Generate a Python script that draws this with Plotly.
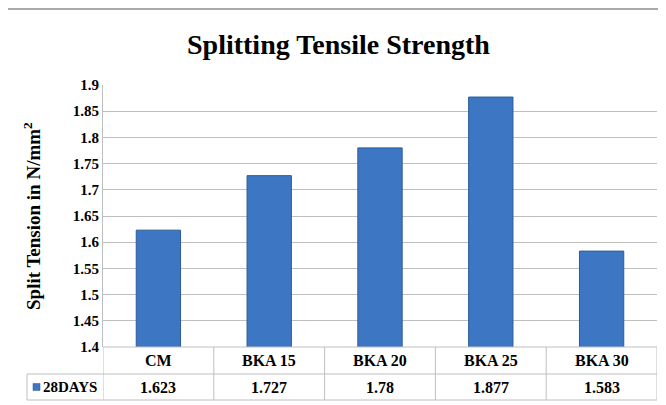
import plotly.graph_objects as go

categories = ["CM", "BKA 15", "BKA 20", "BKA 25", "BKA 30"]
values_28days = [1.623, 1.727, 1.78, 1.877, 1.583]
value_labels = ["1.623", "1.727", "1.78", "1.877", "1.583"]
series_name = "28DAYS"
tick_vals = [1.4, 1.45, 1.5, 1.55, 1.6, 1.65, 1.7, 1.75, 1.8, 1.85, 1.9]

FONT = "Liberation Serif, Times New Roman, serif"
OFF = 8  # page body margin
WIN_W, WIN_H = 666, 405
W, H = WIN_W - OFF, WIN_H - OFF
ml, mr, mt, mb = 103 - OFF, 9, 85 - OFF, 58
plot_h = H - mt - mb
plot_w = W - ml - mr


def px(xwin):
    return (xwin - OFF - ml) / plot_w


def py(ywin):
    return (WIN_H - mb - ywin) / plot_h


def bfont(size):
    return dict(family=FONT, size=size, color="#000", weight="bold")


fig = go.Figure()
fig.add_trace(go.Bar(
    x=list(range(len(categories))), y=values_28days, name=series_name,
    width=0.4,
    marker=dict(color="#3D77C4", line=dict(color="#2A5A97", width=1)),
    showlegend=False, hoverinfo="skip",
))

row1 = py(374)
row2 = py(400)
left_leg = px(27)

shapes = []
line_style = dict(color="#BFBFBF", width=1)
shapes.append(dict(type="line", xref="x", yref="paper", x0=-0.5, x1=len(categories) - 0.5, y0=0, y1=0, line=line_style))
for yy in (row1, row2):
    shapes.append(dict(type="line", xref="paper", yref="paper", x0=left_leg, x1=1, y0=yy, y1=yy, line=line_style))
for i in range(len(categories) + 1):
    shapes.append(dict(type="line", xref="x", yref="paper", x0=i - 0.5, x1=i - 0.5, y0=0, y1=row2, line=line_style))
shapes.append(dict(type="line", xref="paper", yref="paper", x0=left_leg, x1=left_leg, y0=row1, y1=row2, line=line_style))
mid2 = (row1 + row2) / 2
shapes.append(dict(type="rect", xref="paper", yref="paper",
                   x0=px(33), x1=px(40),
                   y0=mid2 - 3.5 / plot_h, y1=mid2 + 3.5 / plot_h,
                   fillcolor="#3D77C4", line=dict(color="#2A5A97", width=0.5)))
# outer chart border (top)
shapes.append(dict(type="line", xref="paper", yref="paper", x0=px(8), x1=px(666),
                   y0=py(9), y1=py(9), line=dict(color="#8C8C8C", width=1.5)))

annotations = []
for i, c in enumerate(categories):
    annotations.append(dict(x=i, y=row1 / 2, xref="x", yref="paper", text=c, showarrow=False,
                            font=bfont(16), yanchor="middle"))
    annotations.append(dict(x=i, y=mid2, xref="x", yref="paper", text=value_labels[i], showarrow=False,
                            font=bfont(16), yanchor="middle"))
annotations.append(dict(x=px(41), y=mid2, xref="paper", yref="paper", text=series_name,
                        showarrow=False, xanchor="left", yanchor="middle", font=bfont(15)))
annotations.append(dict(x=px(32), y=0.5, xref="paper", yref="paper",
                        text="Split Tension in N/mm<sup>2</sup>", textangle=-90, showarrow=False,
                        xanchor="center", yanchor="middle", font=bfont(19)))
annotations.append(dict(x=px(338), y=py(45), xref="paper", yref="paper",
                        text="Splitting Tensile Strength", showarrow=False,
                        xanchor="center", yanchor="middle", font=bfont(28)))

fig.update_layout(
    width=W, height=H,
    margin=dict(l=ml, r=mr, t=mt, b=mb),
    paper_bgcolor="white", plot_bgcolor="white",
    shapes=shapes, annotations=annotations,
    xaxis=dict(range=[-0.5, len(categories) - 0.5], showticklabels=False, showgrid=False,
               zeroline=False, showline=False, fixedrange=True),
    yaxis=dict(range=[1.4, 1.9], tickvals=tick_vals, ticktext=[f"{v:g}" for v in tick_vals],
               showgrid=True, gridcolor="#BFBFBF", gridwidth=1, zeroline=False,
               showline=True, linecolor="#BFBFBF", linewidth=1, ticks="", ticklen=0,
               tickfont=bfont(15), fixedrange=True),
)

fig.write_html("out.html")
